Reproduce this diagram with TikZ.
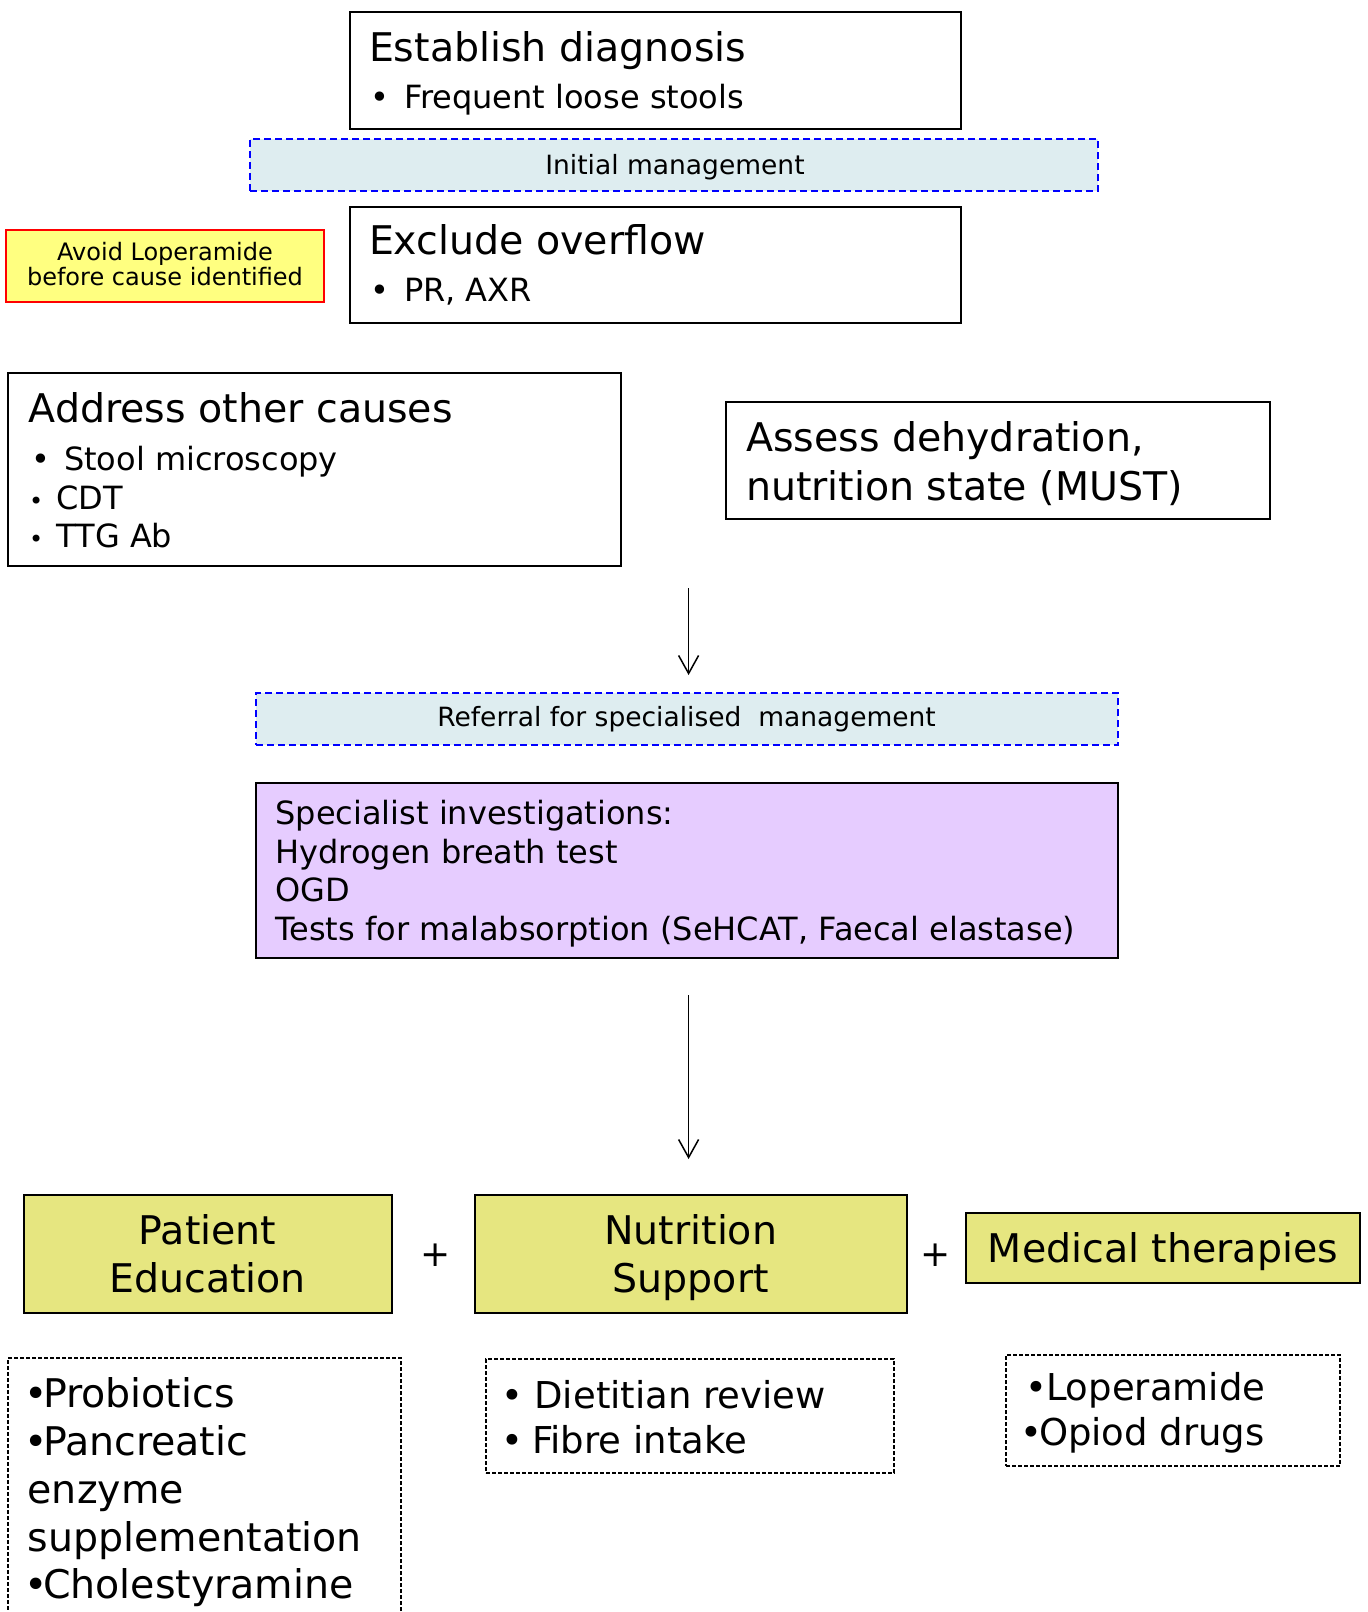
\documentclass[tikz,border=0pt]{standalone}
\usepackage{fontspec}
\setmainfont{DejaVu Sans}
\usetikzlibrary{arrows.meta}
\definecolor{paleblue}{RGB}{222,237,240}
\definecolor{noteyellow}{RGB}{255,255,128}
\definecolor{lavender}{RGB}{230,204,255}
\definecolor{khaki}{RGB}{230,230,128}
\newcommand{\hdfont}{\fontsize{39.5}{47}\selectfont}
\newcommand{\btfont}{\fontsize{32}{38}\selectfont}
\newcommand{\smfont}{\fontsize{26.5}{32}\selectfont}
\newcommand{\avfont}{\fontsize{24}{29}\selectfont}
\newcommand{\lsfont}{\fontsize{37}{44}\selectfont}
\begin{document}
\begin{tikzpicture}[x=1pt,y=-1pt,
  every node/.style={inner sep=0pt, outer sep=0pt},
  box/.style={draw=black, line width=2pt, rectangle, anchor=north west},
  bluebox/.style={draw=blue, line width=2pt, dash pattern=on 7pt off 4pt, fill=paleblue, rectangle, anchor=north west},
  notebox/.style={draw=red, line width=2pt, fill=noteyellow, rectangle, anchor=north west},
  specbox/.style={box, fill=lavender},
  yellowbox/.style={box, fill=khaki},
  listbox/.style={draw=black, line width=1.5pt, dash pattern=on 4pt off 2pt, rectangle, anchor=north west},
  lt/.style={anchor=base west},
  ct/.style={anchor=base},
  arr/.style={draw=black, line width=1.5pt, -{Straight Barb[length=18pt,width=20pt,line width=1.5pt]}}
]
\useasboundingbox (0,0) rectangle (1368,1612);

% top boxes
\node[box, minimum width=611.5pt, minimum height=117pt] (diag) at (349.5,12.3) {};
\node[lt, font=\hdfont] (diagh) at (369,61.7) {Establish diagnosis};
\node[lt, font=\btfont] (diagb) at (370,108.3) {•};
\node[lt, font=\btfont] (diagt) at (404,108.3) {Frequent loose stools};

\node[bluebox, minimum width=848pt, minimum height=52pt] (init) at (250,139) {};
\node[ct, font=\smfont] (initt) at (675,174) {Initial management};

\node[notebox, minimum width=318pt, minimum height=72pt] (avoid) at (6,230) {};
\node[ct, font=\avfont] (avoid1) at (165,260.7) {Avoid Loperamide};
\node[ct, font=\avfont] (avoid2) at (165,285) {before cause identified};

\node[box, minimum width=611.5pt, minimum height=116pt] (excl) at (349.5,206.6) {};
\node[lt, font=\hdfont] (exclh) at (369,254) {Exclude overflow};
\node[lt, font=\btfont] (exclb) at (370,301.7) {•};
\node[lt, font=\btfont] (exclt) at (404,301.7) {PR, AXR};

% address other causes
\node[box, minimum width=613pt, minimum height=193pt] (addr) at (8,373) {};
\node[lt, font=\hdfont] (addrh) at (28.8,422) {Address other causes};
\node[lt, font=\btfont] (addrb1) at (31,470) {•};
\node[lt, font=\btfont] (addrt1) at (64,470) {Stool microscopy};
\node[lt, font=\fontsize{24}{28}\selectfont] (addrb2) at (29,509) {•};
\node[lt, font=\btfont] (addrt2) at (56.5,509) {CDT};
\node[lt, font=\fontsize{24}{28}\selectfont] (addrb3) at (29,547) {•};
\node[lt, font=\btfont] (addrt3) at (56.5,547) {TTG Ab};

% assess
\node[box, minimum width=544.5pt, minimum height=117pt] (assess) at (725.6,402) {};
\node[lt, font=\hdfont] (assess1) at (746,451) {Assess dehydration,};
\node[lt, font=\hdfont] (assess2) at (746,500) {nutrition state (MUST)};

% arrow 1
\coordinate (a1s) at (688.6,588);
\coordinate (a1e) at (688.6,675);
\draw[arr] (a1s) -- (a1e);

% referral
\node[bluebox, minimum width=862pt, minimum height=52pt] (ref) at (256,693) {};
\node[ct, font=\smfont] (reft) at (686.6,726.6) {Referral for specialised\ \ management};

% specialist
\node[specbox, minimum width=862pt, minimum height=175pt] (spec) at (256,783) {};
\node[lt, font=\btfont] (spec1) at (275.5,824) {Specialist investigations:};
\node[lt, font=\btfont] (spec2) at (275.5,863) {Hydrogen breath test};
\node[lt, font=\btfont] (spec3) at (275.5,901) {OGD};
\node[lt, font=\btfont] (spec4) at (275.5,940.5) {Tests for malabsorption (SeHCAT, Faecal elastase)};

% arrow 2
\coordinate (a2s) at (688.6,995);
\coordinate (a2e) at (688.6,1159);
\draw[arr] (a2s) -- (a2e);

% bottom boxes
\node[yellowbox, minimum width=368pt, minimum height=117.5pt] (pat) at (23.6,1195) {};
\node[ct, font=\hdfont] (pat1) at (207.6,1244) {Patient};
\node[ct, font=\hdfont] (pat2) at (207.6,1292) {Education};

\node[font=\fontsize{36}{40}\selectfont] (plus1) at (436,1255.5) {+};

\node[yellowbox, minimum width=431.5pt, minimum height=117.5pt] (nut) at (475,1195) {};
\node[ct, font=\hdfont] (nut1) at (690.7,1244) {Nutrition};
\node[ct, font=\hdfont] (nut2) at (690.7,1292) {Support};

\node[font=\fontsize{36}{40}\selectfont] (plus2) at (936,1255.5) {+};

\node[yellowbox, minimum width=394pt, minimum height=70pt] (med) at (966,1213) {};
\node[ct, font=\hdfont] (medt) at (1163,1262) {Medical therapies};

% lists
\node[listbox, minimum width=393pt, minimum height=280pt] (list1) at (8,1358) {};
\node[lt, font=\hdfont] (l1ab) at (24.7,1407) {•};
\node[lt, font=\hdfont] (l1a) at (43,1407) {Probiotics};
\node[lt, font=\hdfont] (l1bb) at (24.7,1455) {•};
\node[lt, font=\hdfont] (l1b) at (43,1455) {Pancreatic};
\node[lt, font=\hdfont] (l1c) at (27.7,1503) {enzyme};
\node[lt, font=\hdfont] (l1d) at (27.7,1551) {supplementation};
\node[lt, font=\hdfont] (l1eb) at (24.7,1598) {•};
\node[lt, font=\hdfont] (l1e) at (43,1598) {Cholestyramine};

\node[listbox, minimum width=408pt, minimum height=114pt] (list2) at (486,1359) {};
\node[lt, font=\lsfont] (l2a) at (501,1408) {•};
\node[lt, font=\lsfont] (l2at) at (534.5,1408) {Dietitian review};
\node[lt, font=\lsfont] (l2b) at (501,1453) {•};
\node[lt, font=\lsfont] (l2bt) at (532,1453) {Fibre intake};

\node[listbox, minimum width=334pt, minimum height=111pt] (list3) at (1006,1355) {};
\node[lt, font=\lsfont] (l3ab) at (1025.5,1400.7) {•};
\node[lt, font=\lsfont] (l3a) at (1046,1400.7) {Loperamide};
\node[lt, font=\lsfont] (l3bb) at (1020.5,1445.7) {•};
\node[lt, font=\lsfont] (l3b) at (1039,1445.7) {Opiod drugs};
\end{tikzpicture}
\end{document}
